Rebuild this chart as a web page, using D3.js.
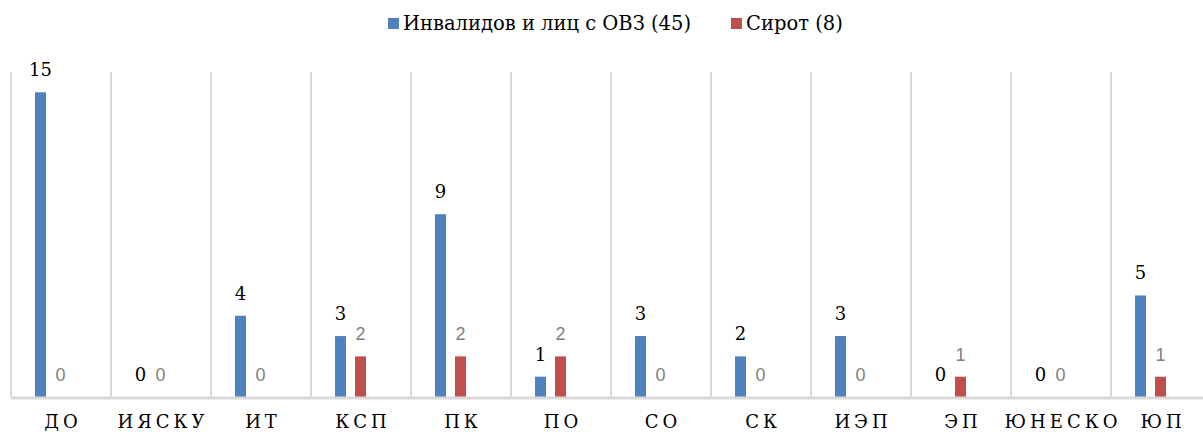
<!DOCTYPE html>
<html>
<head>
<meta charset="utf-8">
<script src="https://cdn.jsdelivr.net/npm/d3@7"></script>
<style>
  body { margin: 0; background: #fff; }
  svg { display: block; }
  .serif { font-family: 'DejaVu Serif', 'Liberation Serif', serif; }
  .sans { font-family: 'Liberation Sans', Arial, sans-serif; }
</style>
</head>
<body>
<svg id="chart" width="1203" height="432"></svg>
<script>
// data
var categories = ['ДО', 'ИЯСКУ', 'ИТ', 'КСП', 'ПК', 'ПО', 'СО', 'СК', 'ИЭП', 'ЭП', 'ЮНЕСКО', 'ЮП'];
var seriesNames = ['Инвалидов и лиц с ОВЗ (45)', 'Сирот (8)'];
var disabled = [15, 0, 4, 3, 9, 1, 3, 2, 3, 0, 0, 5];
var orphans = [0, 0, 0, 2, 2, 2, 0, 0, 0, 1, 0, 1];
var colors = ['#4f81bd', '#c0504d'];

var svg = d3.select('#chart');
var gridColor = '#d9d9d9';

var x = d3.scaleBand().domain(categories).range([11, 1211]).padding(0);
var x1 = d3.scaleBand().domain([0, 1]).range([24, 55]).paddingInner(0.45).paddingOuter(0);
var y = d3.scaleLinear().domain([0, 16]).range([397, 72]);

// vertical separators between categories
svg.append('g').selectAll('line')
  .data(categories)
  .enter().append('line')
  .attr('x1', function(d) { return x(d); })
  .attr('x2', function(d) { return x(d); })
  .attr('y1', y(16))
  .attr('y2', y(0))
  .style('stroke', gridColor)
  .style('stroke-width', 2);

var rows = categories.map(function(c, i) {
  return { cat: c, vals: [disabled[i], orphans[i]] };
});

var groups = svg.append('g').selectAll('.grp')
  .data(rows)
  .enter().append('g')
  .attr('transform', function(d) { return 'translate(' + x(d.cat) + ',0)'; });

groups.selectAll('rect')
  .data(function(d) { return d.vals.map(function(v, s) { return { v: v, s: s }; }); })
  .enter().append('rect')
  .attr('x', function(d) { return x1(d.s); })
  .attr('width', x1.bandwidth())
  .attr('y', function(d) { return y(d.v); })
  .attr('height', function(d) { return y(0) - y(d.v); })
  .style('fill', function(d) { return colors[d.s]; });

groups.selectAll('text')
  .data(function(d) { return d.vals.map(function(v, s) { return { v: v, s: s }; }); })
  .enter().append('text')
  .attr('class', function(d) { return d.s === 0 ? 'serif' : 'sans'; })
  .attr('x', function(d) { return x1(d.s) + x1.bandwidth() / 2; })
  .attr('y', function(d) { return y(d.v) - 16; })
  .attr('text-anchor', 'middle')
  .style('font-size', '18px')
  .style('fill', function(d) { return d.s === 0 ? '#000' : '#7f7f7f'; })
  .text(function(d) { return d.v; });

// baseline
svg.append('line')
  .attr('x1', x.range()[0])
  .attr('x2', x.range()[1])
  .attr('y1', y(0) + 1)
  .attr('y2', y(0) + 1)
  .style('stroke', gridColor)
  .style('stroke-width', 3);

// category labels
svg.append('g').selectAll('text')
  .data(categories)
  .enter().append('text')
  .attr('class', 'serif')
  .attr('x', function(d) { return x(d) + x.bandwidth() / 2 + 2; })
  .attr('y', 428)
  .attr('text-anchor', 'middle')
  .style('font-size', '18px')
  .style('letter-spacing', '4px')
  .text(function(d) { return d; });

// legend
var legendX = [388, 731];
var legend = svg.append('g').selectAll('g')
  .data(seriesNames)
  .enter().append('g')
  .attr('transform', function(d, i) { return 'translate(' + legendX[i] + ',0)'; });

legend.append('rect')
  .attr('x', 0).attr('y', 18)
  .attr('width', 11).attr('height', 11)
  .style('fill', function(d, i) { return colors[i]; });

legend.append('text')
  .attr('class', 'serif')
  .attr('x', 15).attr('y', 30)
  .style('font-size', '19.5px')
  .text(function(d) { return d; });
</script>
</body>
</html>
